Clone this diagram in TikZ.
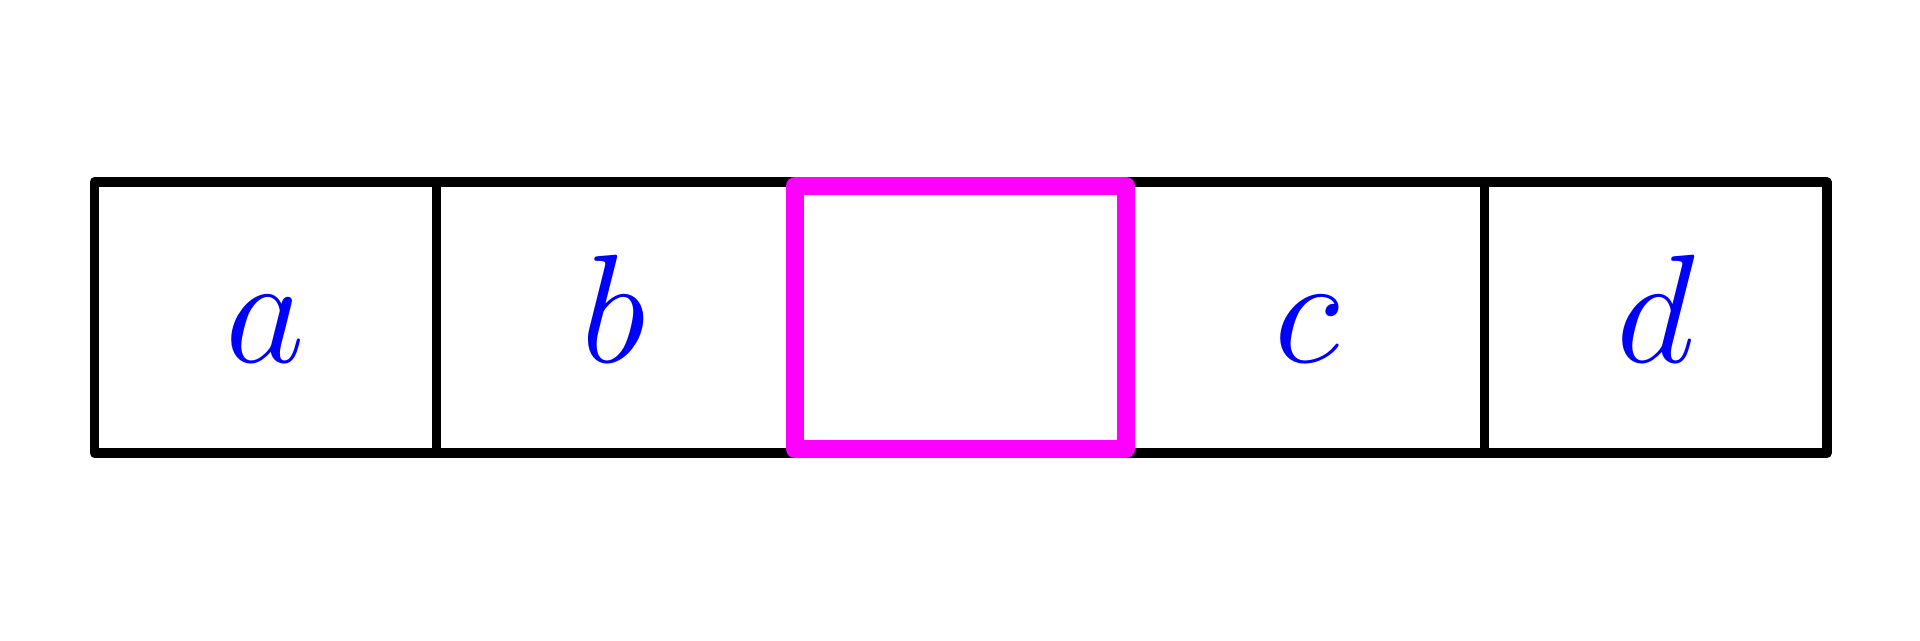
\RequirePackage{fix-cm}
\documentclass[tikz,border=0pt]{standalone}
\usetikzlibrary{positioning}
\definecolor{blue}{RGB}{0,0,255}
\definecolor{magenta}{RGB}{255,0,255}
\tikzstyle{cell}=[rectangle, draw=black, line width=0.095cm, line join=round, outer sep=0pt, inner sep=0pt, minimum height=2.71cm, text=blue, text height=0.89cm, text depth=0cm, font=\fontsize{44}{50}\selectfont]
\tikzstyle{hilite}=[draw=magenta, line width=0.18cm, line join=round]

\begin{document}
\begin{tikzpicture}
    \useasboundingbox (0,0) rectangle (19.2,6.4);
    %row of cells, the empty slot is highlighted
    \node[cell, minimum width=3.42cm, anchor=north west] (c0) at (0.945,4.58) {$a$};
    \foreach \t/\w [count=\n] in {{$b$}/3.54, {}/3.40, {$c$}/3.54, {$d$}/3.425}{
        \pgfmathtruncatemacro\nmm{\n -1}
        \node[cell, minimum width=\w cm, right=0cm of c\nmm] (c\n) {\t};
    }
    \draw[hilite] ([shift={(0.045,-0.04)}]c2.north west) rectangle ([shift={(-0.045,0.04)}]c2.south east);
\end{tikzpicture}
\end{document}
